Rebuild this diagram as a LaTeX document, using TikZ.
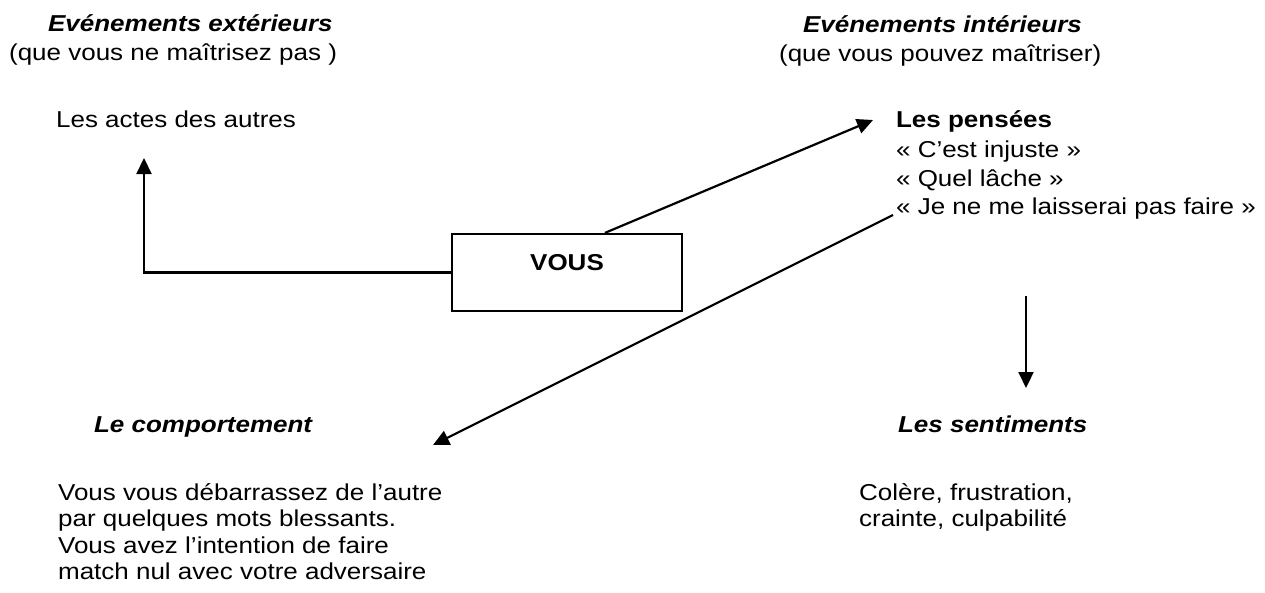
\documentclass[tikz,border=0pt]{standalone}
\usepackage{fontspec}
\setmainfont[FakeStretch=1.13]{Liberation Sans}
\usetikzlibrary{arrows.meta}

\tikzset{every picture/.style={line width=2.2pt}}
\tikzset{
  txt/.style={anchor=base west,inner sep=0pt,align=left,font=\fontsize{23}{26.5}\selectfont},
  titre/.style={txt,font=\fontsize{23}{26.5}\selectfont\bfseries\itshape},
  boite/.style={draw,minimum width=230pt,minimum height=77pt,inner sep=0pt},
  fleche/.style={-{Triangle[length=16pt,width=15pt]}},
}

\begin{document}
\begin{tikzpicture}[x=1pt,y=1pt,yscale=-1,xscale=1]
\useasboundingbox (0,0) rectangle (1265,592);

%Shape: Rectangle
\node [boite] (vous) at (567,272.5) {};
\node [txt,font=\fontsize{23}{26.5}\selectfont\bfseries,anchor=base] (vous txt) at (567,270) {VOUS};

% Text Node
\node [titre] (ext) at (47,31) {Evénements extérieurs};
\node [txt] (ext sous) at (8,60) {(que vous ne maîtrisez pas )};
\node [txt] (actes) at (55,127) {Les actes des autres};
% Text Node
\node [titre] (int) at (802,32) {Evénements intérieurs};
\node [txt] (int sous) at (778,61) {(que vous pouvez maîtriser)};
\node [txt,font=\fontsize{23}{26.5}\selectfont\bfseries] (pensees) at (895,127) {Les pensées};
\node [txt] (injuste) at (895,157) {« C’est injuste »};
\node [txt] (lache) at (895,186) {« Quel lâche »};
\node [txt] (faire) at (895,214) {« Je ne me laisserai pas faire »};
% Text Node
\node [titre] (comp) at (93,432) {Le comportement};
\node [txt] (comp txt) at (57,579.5) {Vous vous débarrassez de l’autre\\par quelques mots blessants.\\Vous avez l’intention de faire\\match nul avec votre adversaire};
% Text Node
\node [titre] (sent) at (897,432) {Les sentiments};
\node [txt] (sent txt) at (858,526.5) {Colère, frustration,\\crainte, culpabilité};

% arrow ends
\coordinate (d1) at ([xshift=154pt]vous.north west);
\coordinate (d2) at (893,215);
\coordinate (d4) at (1026,296);
\coordinate (a1) at (144,158);
\coordinate (a2) at (873,120);
\coordinate (a3) at (433,445);
\coordinate (a4) at (1026,388);

%Straight Lines
\draw [fleche] (vous.west) -| (a1);
\draw [fleche] (d1) -- (a2);
\draw [fleche] (d2) -- (a3);
\draw [fleche] (d4) -- (a4);

\end{tikzpicture}
\end{document}
